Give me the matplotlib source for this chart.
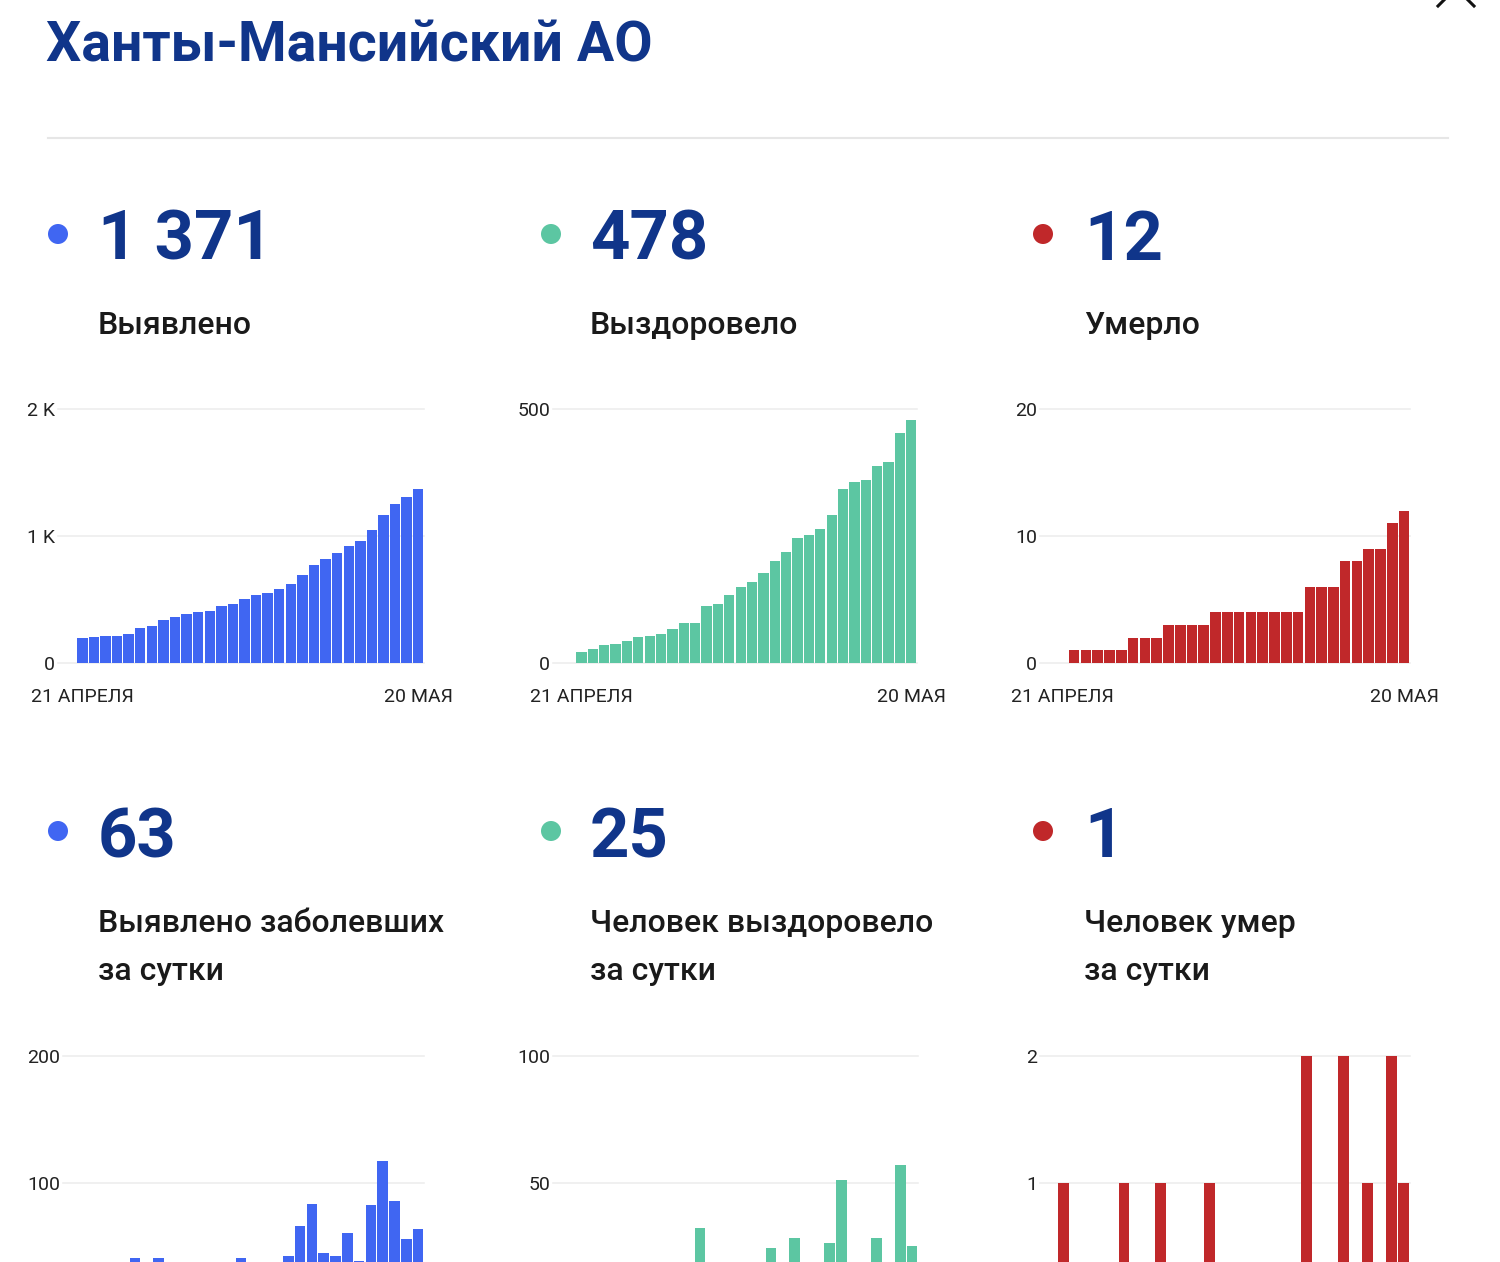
import numpy as np
import matplotlib.pyplot as plt
from matplotlib.patches import Circle

plt.rcParams['font.family'] = ['Roboto', 'DejaVu Sans']

W, H = 1500, 1262

title = "Ханты-Мансийский АО"
total_values = ["1 371", "478", "12"]
total_labels = ["Выявлено", "Выздоровело", "Умерло"]
daily_values = ["63", "25", "1"]
daily_labels = [("Выявлено заболевших", "за сутки"),
                ("Человек выздоровело", "за сутки"),
                ("Человек умер", "за сутки")]
date_labels = ["21 АПРЕЛЯ", "20 МАЯ"]

# cumulative, 21 April .. 20 May
cases_total = [194, 202, 212, 215, 230, 272, 293, 335, 361, 385, 403, 411, 445, 463, 505,
               534, 550, 581, 623, 691, 775, 819, 864, 924, 961, 1045, 1162, 1249, 1306, 1371]
recovered_total = [21, 28, 35, 38, 43, 52, 54, 58, 66, 79, 79, 112, 117, 134, 150,
                   160, 177, 201, 219, 247, 252, 264, 291, 343, 356, 360, 388, 396, 453, 478]
deaths_total = [0, 1, 1, 1, 1, 1, 2, 2, 2, 3, 3, 3, 3, 4, 4,
                4, 4, 4, 4, 4, 4, 6, 6, 6, 8, 8, 9, 9, 11, 12]

# daily, 22 April .. 20 May
cases_daily = [8, 10, 3, 15, 40, 21, 40, 26, 24, 18, 8, 34, 18, 40, 29,
               16, 31, 42, 66, 83, 44, 42, 60, 38, 82, 117, 85, 55, 63]
recovered_daily = [7, 7, 3, 5, 9, 2, 4, 8, 13, 0, 32, 5, 17, 16, 10,
                   17, 24, 17, 28, 5, 12, 26, 51, 13, 4, 28, 8, 57, 25]
deaths_daily = [1, 0, 0, 0, 0, 1, 0, 0, 1, 0, 0, 0, 1, 0, 0,
                0, 0, 0, 0, 0, 2, 0, 0, 2, 0, 1, 0, 2, 1]

navy = '#10358a'
blue = '#4066f2'
green = '#5cc6a2'
red = '#c0282a'
colors = [blue, green, red]

fig = plt.figure(figsize=(W / 100, H / 100), dpi=100)

# overlay in pixel coordinates for the text blocks
ov = fig.add_axes([0, 0, 1, 1])
ov.set_xlim(0, W)
ov.set_ylim(H, 0)
ov.axis('off')

ov.text(46, 62, title, fontsize=40, fontweight='bold', color=navy, va='baseline')
ov.plot([48, 1448], [138, 138], color='#e6e6e6', lw=1.5)
ov.plot([1438, 1476], [6, -32], color='#111111', lw=2.2)
ov.plot([1474, 1436], [6, -32], color='#111111', lw=2.2)

col_dot = [58, 551, 1043]
col_txt = [100, 592, 1086]
for i in range(3):
    for ydot, ynum, val in [(234, 260, total_values[i]), (831, 857, daily_values[i])]:
        ov.add_patch(Circle((col_dot[i], ydot), 10, color=colors[i], lw=0))
        ov.text(col_txt[i] - 2, ynum, val, fontsize=49.5, fontweight='bold',
                color=navy, va='baseline')
    ov.text(col_txt[i] - 2, 334, total_labels[i], fontsize=23, fontweight='medium',
            color='#1a1a1a', va='baseline')
    ov.text(col_txt[i] - 2, 932, daily_labels[i][0], fontsize=23, fontweight='medium',
            color='#1a1a1a', va='baseline')
    ov.text(col_txt[i] - 2, 980, daily_labels[i][1], fontsize=23, fontweight='medium',
            color='#1a1a1a', va='baseline')


def add_chart(x0, x1, ytop, ybot, values, color, ymax, yticks, ylabels, left, dates):
    ax = fig.add_axes([x0 / W, 1 - ybot / H, (x1 - x0) / W, (ybot - ytop) / H])
    n = len(values)
    x = np.arange(n)
    ax.bar(x, values, width=0.9, color=color, zorder=2)
    ax.set_xlim(left, n - 0.5)
    ax.set_ylim(0, ymax)
    ax.set_yticks(yticks, ylabels)
    ax.grid(axis='y', color='#eeeeee', lw=1.2, zorder=0)
    ax.set_axisbelow(True)
    for line in ax.get_ygridlines():
        line.set_clip_on(False)
    for s in ax.spines.values():
        s.set_visible(False)
    ax.tick_params(length=0, labelsize=14, colors='#222222')
    ax.tick_params(axis='y', pad=2)
    if dates:
        ax.set_xticks([0, n - 1], date_labels)
        ax.tick_params(axis='x', pad=18)
    else:
        ax.set_xticks([])
    ax.patch.set_alpha(0)
    return ax


add_chart(58, 424, 409, 663, cases_total, blue, 2000, [0, 1000, 2000], ["0", "1 K", "2 K"], -2.1, True)
add_chart(553, 917, 409, 663, recovered_total, green, 500, [0, 500], ["0", "500"], -2.5, True)
add_chart(1040, 1410, 409, 663, deaths_total, red, 20, [0, 10, 20], ["0", "10", "20"], -1.9, True)

# bottom row runs past the lower edge of the page, as in the screenshot
add_chart(63, 424, 1056, 1309, cases_daily, blue, 200, [100, 200], ["100", "200"], -2.1, False)
add_chart(553, 918, 1056, 1309, recovered_daily, green, 100, [50, 100], ["50", "100"], -2.5, False)
add_chart(1040, 1410, 1056, 1309, deaths_daily, red, 2, [1, 2], ["1", "2"], -1.9, False)

fig.savefig('out.png', dpi=100)
